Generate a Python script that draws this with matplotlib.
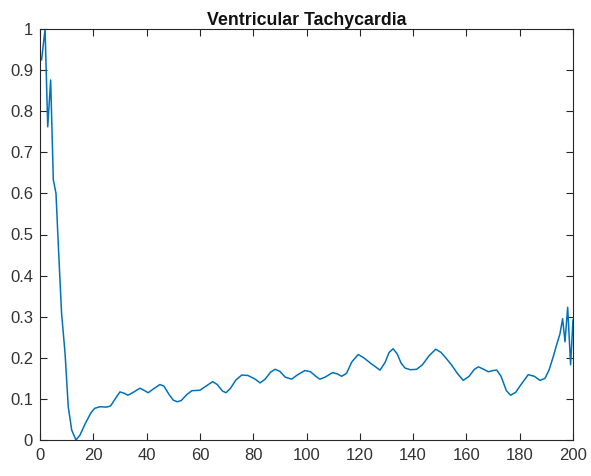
import matplotlib
matplotlib.use("Agg")
from matplotlib import pyplot as plt

# sample index and normalised amplitude of the VT trace
x_vals = [0.6, 1.9, 2.9, 4.0, 5.0, 6.0, 6.9, 8.1, 9.4, 10.6, 11.9, 13.5, 15, 17, 19,
          20.5, 22.5, 25, 26.5, 28, 30, 31.5, 33, 35, 37.5, 39, 40.6, 42.5, 45, 46.5,
          48.5, 50, 51.5, 53, 55, 57, 60, 62.5, 64.8, 66.5, 68.5, 69.8, 71.5, 73.5,
          75.7, 78, 80.5, 82.6, 84.5, 86.5, 88.2, 90, 92, 94.4, 96.5, 99.4, 101.5,
          103.5, 105, 107, 109.8, 111.5, 113.2, 115, 117, 119.4, 121.5, 124, 127.6,
          129.5, 131, 132.5, 134, 135.5, 137, 139, 141.3, 143.5, 146, 148.5, 150.5,
          152.5, 154.5, 156.5, 158.8, 161, 163, 164.5, 166.5, 168.2, 170, 171.4, 173,
          175, 176.6, 178.5, 180.5, 183.2, 185.5, 187.6, 189.5, 191, 192.6, 194,
          195.1, 196.1, 197, 198, 199.1, 200]
y_vals = [0.925, 1.0, 0.762, 0.876, 0.633, 0.600, 0.47, 0.308, 0.211, 0.081, 0.024, 0.0,
          0.012, 0.04, 0.065, 0.077, 0.081, 0.080, 0.083, 0.098, 0.117, 0.114, 0.109,
          0.116, 0.126, 0.121, 0.115, 0.124, 0.135, 0.131, 0.11, 0.097, 0.093, 0.096,
          0.110, 0.120, 0.121, 0.132, 0.142, 0.135, 0.119, 0.115, 0.126, 0.146, 0.158,
          0.157, 0.149, 0.139, 0.148, 0.165, 0.172, 0.167, 0.153, 0.148, 0.158, 0.169,
          0.166, 0.155, 0.148, 0.153, 0.164, 0.161, 0.155, 0.162, 0.19, 0.208, 0.200,
          0.187, 0.170, 0.189, 0.213, 0.222, 0.21, 0.187, 0.175, 0.171, 0.172, 0.183,
          0.205, 0.221, 0.213, 0.198, 0.182, 0.163, 0.145, 0.155, 0.172, 0.178, 0.172,
          0.166, 0.169, 0.170, 0.155, 0.12, 0.109, 0.116, 0.135, 0.159, 0.155, 0.145,
          0.150, 0.170, 0.203, 0.235, 0.258, 0.295, 0.239, 0.323, 0.183, 0.292]

x_ticks = list(range(0, 201, 20))
y_ticks = [0, 0.1, 0.2, 0.3, 0.4, 0.5, 0.6, 0.7, 0.8, 0.9, 1]
y_labels = ["0", "0.1", "0.2", "0.3", "0.4", "0.5", "0.6", "0.7", "0.8", "0.9", "1"]

plt.rcParams['font.family'] = ['Liberation Sans', 'DejaVu Sans']

fig = plt.figure(figsize=(5.91, 4.76), dpi=100)
ax = fig.add_axes([40 / 591, 36 / 476, 533 / 591, 411 / 476])

ax.plot(x_vals, y_vals, color='#0072BD', lw=1.1)

ax.set_xlim(0, 200)
ax.set_ylim(0, 1)
ax.set_xticks(x_ticks)
ax.set_xticklabels([str(t) for t in x_ticks])
ax.set_yticks(y_ticks)
ax.set_yticklabels(y_labels)

axis_grey = '#262626'
for s in ax.spines.values():
    s.set_color(axis_grey)
    s.set_linewidth(0.8)
ax.tick_params(direction='in', length=5, width=0.8, color=axis_grey,
               top=True, right=True, labelsize=12, labelcolor='#333333')
ax.tick_params(axis='y', pad=5)
ax.tick_params(axis='x', pad=6)

ax.set_title("Ventricular Tachycardia", fontsize=12.8, fontweight='bold',
             color='#111111', pad=3)

fig.savefig("out.png", dpi=100)
